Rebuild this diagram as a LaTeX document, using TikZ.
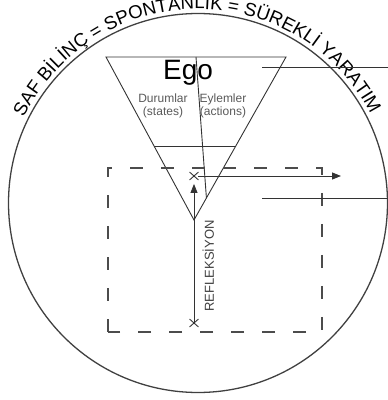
\documentclass[tikz,border=0pt]{standalone}
\usepackage{fontspec}
\setmainfont{Liberation Sans}
\usetikzlibrary{positioning, calc, arrows.meta, decorations.text, shapes.misc}

\begin{document}
\begin{tikzpicture}[
        x=1pt, y=1pt,
        >={Triangle[length=9pt, width=7pt]}, % Arrowhead style
        line/.style={draw=black!80, line width=0.9pt},
        ring/.style={circle, draw=black!75, line width=1.3pt, minimum size=379pt, inner sep=0pt},
        statelabel/.style={font=\fontsize{12}{13.5}\selectfont, text=black!65, align=center, inner sep=0pt},
        crossmark/.style={cross out, draw=black!80, line width=0.9pt, minimum width=8pt, minimum height=7pt, inner sep=0pt},
        dashbox/.style={draw=black!70, line width=1.1pt, dash pattern=on 13pt off 18pt}
    ]
    \useasboundingbox (0,0) rectangle (388,400);

    % ==========================================
    % Pure consciousness circle
    % ==========================================
    \node[ring] (bound) at (198,197) {};
    \path[decorate, decoration={text along path, text align=center,
        text format delimiters={[}{]},
        text={[\fontsize{18.6}{20}\selectfont]SAF BİLİNÇ = SPONTANLIK = SÜREKLİ YARATIM}}]
        ($(bound.center)+(170:194)$) arc[start angle=170, end angle=11, radius=194];

    % ==========================================
    % Ego triangle
    % ==========================================
    \coordinate (TL) at (106,343);
    \coordinate (TR) at (286,343);
    \coordinate (A) at (194,180);
    \coordinate (TM) at (196,343);
    \draw[line] (TL) -- (TR) -- (A) -- cycle;
    \draw[line] ($(TL)!0.55!(A)$) -- ($(TR)!0.55!(A)$);
    \draw[line] (TM) -- ($(TR)!0.865!(A)$);

    \node[font=\fontsize{28}{30}\selectfont, anchor=base, inner sep=0pt] (ego) at (188,320) {Ego};
    \node[statelabel] (states) at (163,294) {Durumlar\\(states)};
    \node[statelabel] (actions) at (223,294) {Eylemler\\(actions)};

    % ==========================================
    % Reflection and dashed field
    % ==========================================
    \draw[dashbox] (108,68) rectangle (322,232);

    \node[crossmark] (xtop) at (194,224) {};
    \node[crossmark] (xbot) at (194,77) {};
    \coordinate (arrEnd) at (341,224);

    \draw[line, ->] (A) -- ([yshift=-4pt]xtop.south);
    \draw[line, ->] (xtop.east) -- (arrEnd);
    \draw[line] (A) -- (xbot.center);
    \node[rotate=90, anchor=north, font=\fontsize{13}{14}\selectfont, text=black!75] (refl) at (199,134) {REFLEKSİYON};

    % ==========================================
    % Pointer lines
    % ==========================================
    \coordinate (egoPtr) at (262,333);
    \coordinate (egoEnd) at (388,333);
    \coordinate (boxPtr) at (262,202);
    \coordinate (boxEnd) at (388,202);
    \draw[line] (egoPtr) -- (egoEnd);
    \draw[line] (boxPtr) -- (boxEnd);

\end{tikzpicture}
\end{document}
